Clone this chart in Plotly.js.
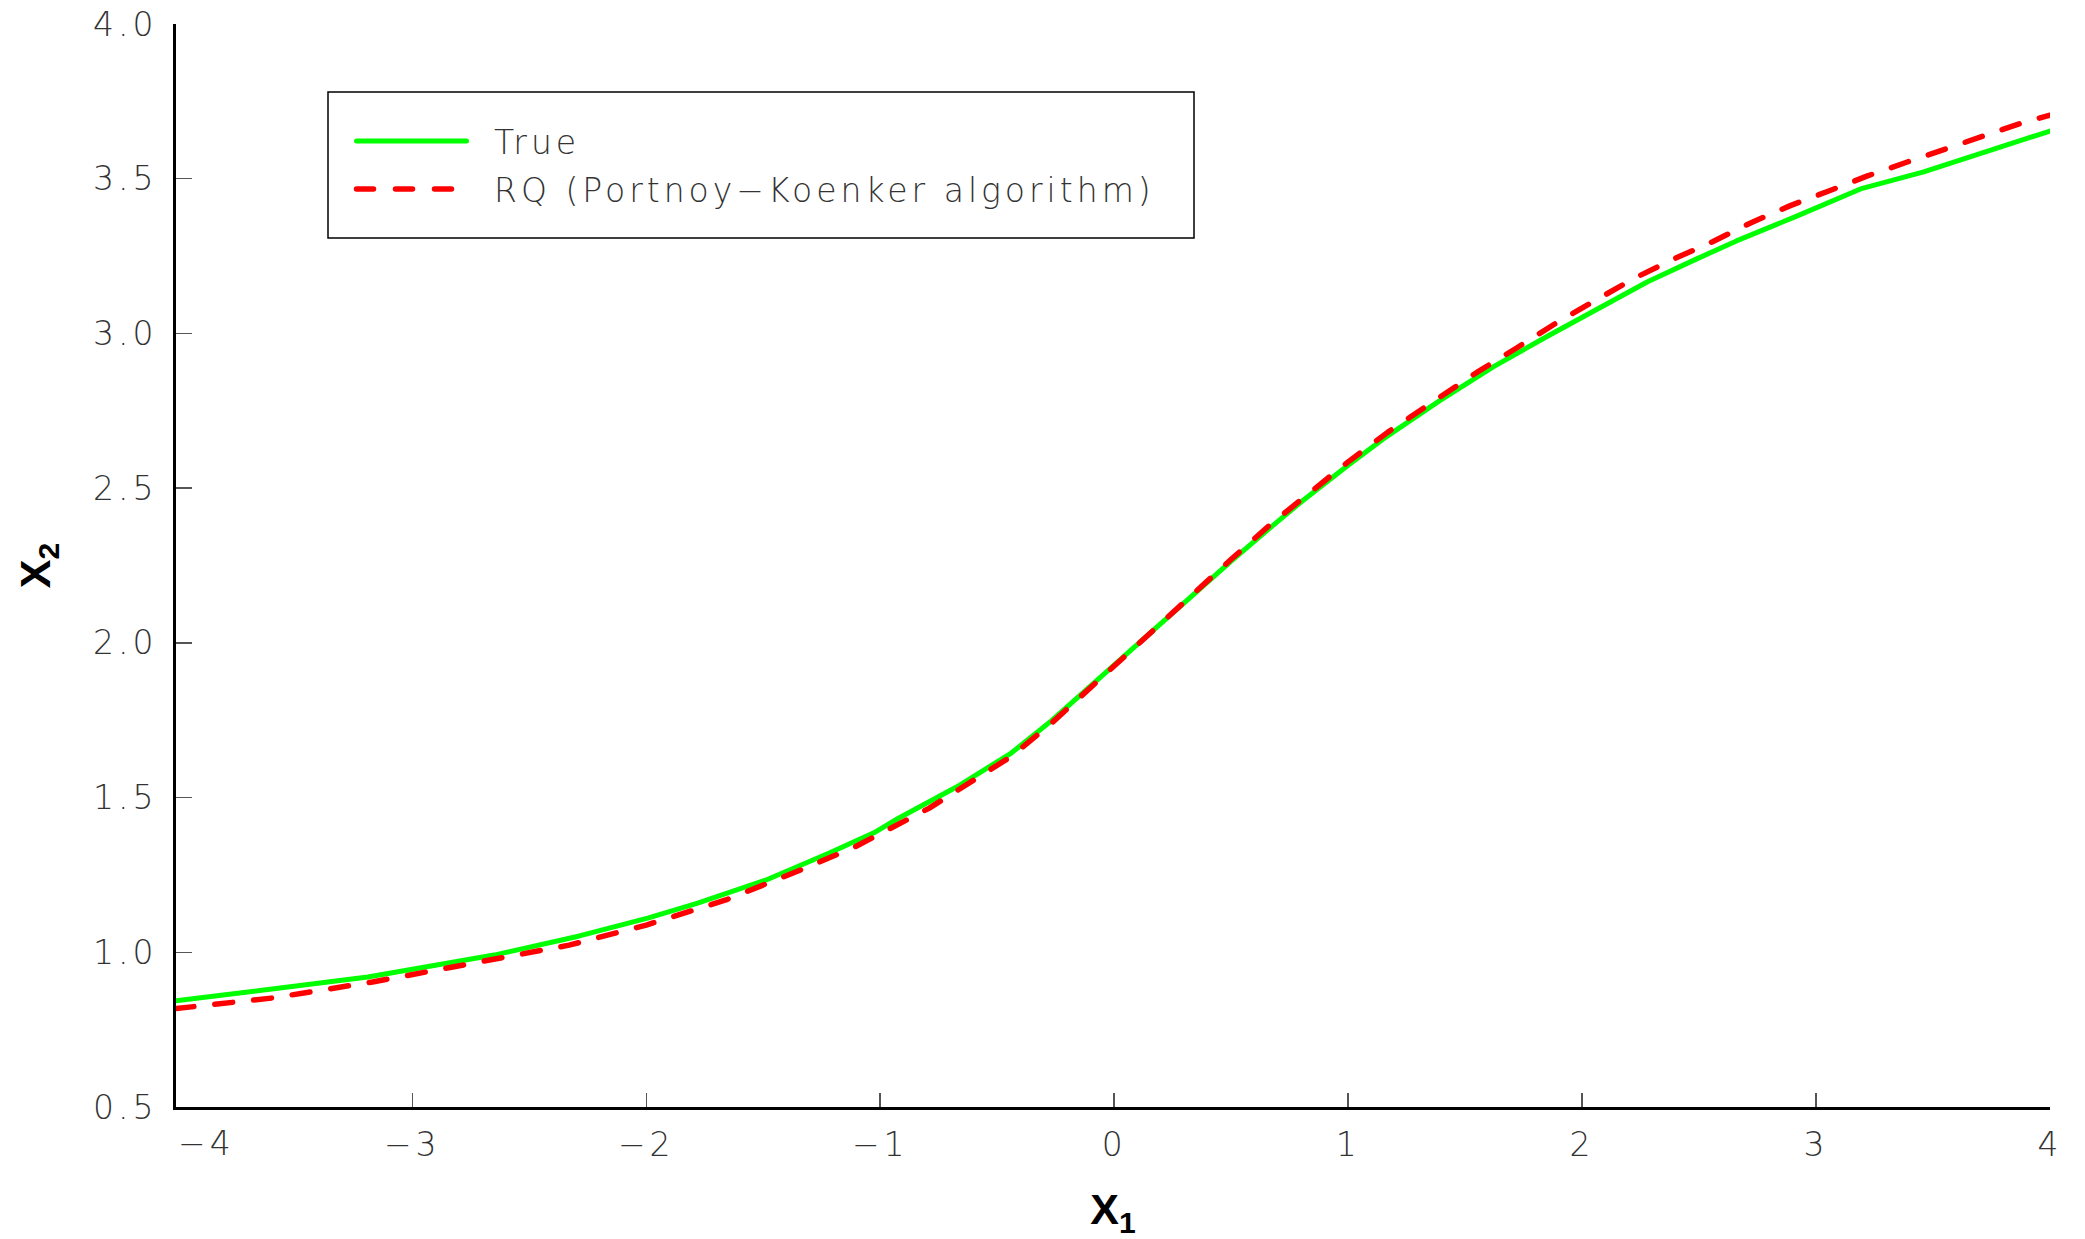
<!DOCTYPE html>
<html>
<head>
<meta charset="utf-8">
<script src="https://cdn.plot.ly/plotly-3.0.1.min.js"></script>
<style>
  html, body { margin: 0; padding: 0; background: #ffffff; }
  #chart { width: 2085px; height: 1239px; }
  /* thin stroke-style lettering with airy spacing */
  .xtick text, .ytick text, .annotation-text { letter-spacing: 4px; }
  .scatterlayer .js-line { stroke-linecap: round; stroke-linejoin: round; }
  .shapelayer path.cap { stroke-linecap: round; }
</style>
</head>
<body>
<div id="chart"></div>
<script>
// True conditional quantile curve
const xTrue = [-4.01, -3.19, -2.65, -2.29, -1.99, -1.78, -1.49, -1.22, -1.02, -0.92,
               -0.66, -0.44, -0.27, -0.07, 0.12, 0.30, 0.50, 0.67, 0.80, 1.00,
               1.15, 1.39, 1.62, 1.85, 2.08, 2.28, 2.49, 2.66, 2.93, 3.19,
               3.46, 3.71, 4.00];
const yTrue = [0.843, 0.920, 0.991, 1.052, 1.111, 1.159, 1.233, 1.320, 1.389, 1.434,
               1.540, 1.644, 1.747, 1.881, 2.012, 2.132, 2.264, 2.374, 2.456, 2.574,
               2.659, 2.782, 2.892, 2.990, 3.087, 3.167, 3.241, 3.299, 3.383, 3.467,
               3.522, 3.583, 3.654];

// Regression quantile estimate (Portnoy-Koenker)
const xRQ = [-4.01, -3.60, -3.17, -2.75, -2.33, -2.00, -1.66, -1.34, -1.11, -0.79,
             -0.62, -0.44, -0.27, -0.07, 0.12, 0.30, 0.50, 0.67, 0.80, 1.00,
             1.17, 1.38, 1.55, 1.72, 1.89, 2.06, 2.22, 2.39, 2.56, 2.72,
             2.89, 3.06, 3.22, 3.39, 3.56, 3.72, 3.89, 4.00];
const yRQ = [0.818, 0.852, 0.904, 0.965, 1.023, 1.088, 1.169, 1.266, 1.340, 1.466,
             1.548, 1.633, 1.739, 1.877, 2.012, 2.134, 2.270, 2.384, 2.465, 2.585,
             2.681, 2.790, 2.874, 2.953, 3.034, 3.108, 3.177, 3.240, 3.297, 3.357,
             3.413, 3.462, 3.509, 3.554, 3.599, 3.641, 3.683, 3.705];

const seriesNames = ['True', 'RQ (Portnoy\u2212Koenker algorithm)'];
const xTickVals = [-3, -2, -1, 0, 1, 2, 3, 4];
const xEdgeTick = -4;

const W = 2085, H = 1239;
const M = {l: 176, r: 35, t: 24, b: 132};
const plotW = W - M.l - M.r, plotH = H - M.t - M.b;
const px = x => (x - M.l) / plotW;          // page pixel -> paper x
const py = y => (H - M.b - y) / plotH;      // page pixel -> paper y

const thinFont = {family: "'DejaVu Sans ExtraLight', 'DejaVu Sans', sans-serif", size: 33, color: '#333333', weight: 200};
const titleFont = {family: "'Liberation Sans', Arial, sans-serif", size: 43, color: '#000000', weight: 'bold'};

const traces = [
  {x: xTrue, y: yTrue, mode: 'lines', name: seriesNames[0],
   line: {color: '#00ff00', width: 5}, hoverinfo: 'skip'},
  {x: xRQ, y: yRQ, mode: 'lines', name: seriesNames[1],
   line: {color: '#ff0000', width: 5.5, dash: '18px,21px'}, hoverinfo: 'skip'}
];

const layout = {
  width: W, height: H,
  margin: M,
  paper_bgcolor: '#ffffff', plot_bgcolor: '#ffffff',
  showlegend: false,
  xaxis: {
    range: [-4.01, 4], tickvals: xTickVals, tickformat: 'd',
    showline: true, linecolor: '#000000', linewidth: 3,
    ticks: 'inside', ticklen: 14, tickwidth: 1.5, tickcolor: '#555555',
    showgrid: false, zeroline: false, tickfont: thinFont, ticklabelstandoff: 6,
    title: {text: 'X<sub>1</sub>', font: titleFont, standoff: 38}
  },
  yaxis: {
    range: [0.5, 4.0], dtick: 0.5, tick0: 0.5, tickformat: '.1f',
    showline: true, linecolor: '#000000', linewidth: 3,
    ticks: 'inside', ticklen: 16, tickwidth: 1.5, tickcolor: '#555555',
    showgrid: false, zeroline: false, tickfont: thinFont, ticklabelstandoff: 9,
    title: {text: 'X<sub>2</sub>', font: titleFont, standoff: 29}
  },
  annotations: [
    {xref: 'x', yref: 'paper', x: xEdgeTick, y: 0, yanchor: 'top', xanchor: 'center',
     xshift: 28, yshift: -15, text: '\u2212' + Math.abs(xEdgeTick), showarrow: false, font: thinFont},
    {xref: 'paper', yref: 'paper', x: px(492), y: py(143), xanchor: 'left', yanchor: 'middle',
     text: seriesNames[0], showarrow: false, font: thinFont},
    {xref: 'paper', yref: 'paper', x: px(492), y: py(191), xanchor: 'left', yanchor: 'middle',
     text: seriesNames[1], showarrow: false, font: thinFont}
  ],
  shapes: [
    {type: 'rect', xref: 'paper', yref: 'paper', x0: px(328), x1: px(1194), y0: py(92), y1: py(238),
     line: {color: '#000000', width: 1.5}, fillcolor: 'rgba(0,0,0,0)'},
    {type: 'line', xref: 'paper', yref: 'paper', x0: px(356.5), x1: px(466.5), y0: py(141), y1: py(141),
     line: {color: '#00ff00', width: 5}},
    {type: 'line', xref: 'paper', yref: 'paper', x0: px(356.5), x1: px(452.5), y0: py(189), y1: py(189),
     line: {color: '#ff0000', width: 5.5, dash: '17px,22px'}}
  ]
};

Plotly.newPlot('chart', traces, layout, {staticPlot: true, displayModeBar: false}).then(gd => {
  // round the ends of the legend sample strokes
  const paths = gd.querySelectorAll('.shapelayer path');
  paths.forEach((p, i) => { if (i > 0) p.classList.add('cap'); });
});
</script>
</body>
</html>
